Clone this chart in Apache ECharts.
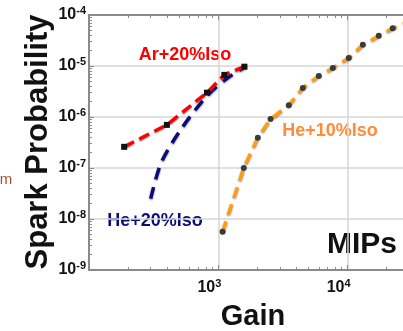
<!DOCTYPE html>
<html>
<head>
<meta charset="utf-8">
<style>
html, body { margin: 0; padding: 0; background: #fff; }
#main { width: 403px; height: 331px; }
</style>
<script src="https://cdn.jsdelivr.net/npm/echarts@6/dist/echarts.min.js"></script>
</head>
<body>
<div id="main"></div>
<script>
// values (gain, spark probability)
var arGain = [187, 400, 817, 1113, 1591];
var arProb = [2.6e-7, 7.0e-7, 3.0e-6, 6.7e-6, 9.7e-6];
var he20Gain = [300, 361, 516, 807, 1153, 1650];
var he20Prob = [2.5e-8, 1.25e-7, 5.8e-7, 2.5e-6, 5.6e-6, 1.0e-5];
var he10Gain = [1079, 1574, 2020, 2533, 3508, 4500, 5980, 7680, 10200, 13100, 17400, 22300, 28500];
var he10Prob = [5.6e-9, 1.0e-7, 3.9e-7, 9.1e-7, 1.7e-6, 3.7e-6, 6.4e-6, 9.1e-6, 1.44e-5, 2.6e-5, 3.9e-5, 5.5e-5, 7.2e-5];
var seriesNames = ['Ar+20%Iso', 'He+20%Iso', 'He+10%Iso'];

function pairs(xs, ys) {
	return xs.map(function (x, i) { return [x, ys[i]]; });
}
function powLabel(v) {
	var e = Math.round(Math.log10(v));
	return '{b|10}{s|' + e + '}';
}

var font = '"Liberation Sans", Arial, sans-serif';
var frame = '#8a8a8a';
var labelRich = {
	b: { fontSize: 16, fontWeight: 'bold', color: '#111', fontFamily: font },
	s: { fontSize: 11, fontWeight: 'bold', color: '#111', fontFamily: font, verticalAlign: 'top', padding: [0, 0, 8, 0] }
};
var shadow = { shadowColor: 'rgba(0,0,0,0.45)', shadowBlur: 2, shadowOffsetY: 1 };

var myChart = echarts.init(document.getElementById('main'));
var option = {
	animation: false,
	grid: { left: 89, top: 15, bottom: 61, right: -74, outerBoundsMode: 'none' },
	xAxis: [{
		type: 'log',
		min: 100,
		max: 100000,
		position: 'bottom',
		axisLine: { lineStyle: { color: frame, width: 2 } },
		axisTick: { inside: true, length: 5, lineStyle: { color: frame } },
		minorTick: { show: true, splitNumber: 9, length: 3, lineStyle: { color: frame } },
		axisLabel: { showMinLabel: false, margin: 8, padding: [0, 18, 0, 0], formatter: powLabel, rich: labelRich },
		splitLine: { show: true, lineStyle: { color: '#d6d6d6', width: 1.5 } }
	}, {
		type: 'log',
		min: 100,
		max: 100000,
		position: 'top',
		axisLine: { lineStyle: { color: frame, width: 2 } },
		axisTick: { inside: true, length: 5, lineStyle: { color: frame } },
		minorTick: { show: true, splitNumber: 9, length: 3, lineStyle: { color: frame } },
		axisLabel: { show: false },
		splitLine: { show: false }
	}],
	yAxis: {
		type: 'log',
		min: 1e-9,
		max: 1e-4,
		axisLine: { show: true, lineStyle: { color: frame, width: 2 } },
		axisTick: { show: true, inside: true, length: 5, lineStyle: { color: frame } },
		minorTick: { show: true, splitNumber: 9, length: 3, lineStyle: { color: frame } },
		axisLabel: { margin: 3, formatter: powLabel, rich: labelRich },
		splitLine: { show: true, lineStyle: { color: '#d6d6d6', width: 1.5 } }
	},
	series: [{
		name: seriesNames[1],
		type: 'line',
		data: pairs(he20Gain, he20Prob),
		smooth: 0.3,
		symbol: 'none',
		lineStyle: Object.assign({ color: '#0c0c78', width: 3.5, type: [12, 8], cap: 'butt' }, shadow)
	}, {
		name: seriesNames[0],
		type: 'line',
		data: pairs(arGain, arProb),
		symbol: 'rect',
		symbolSize: 6,
		itemStyle: { color: '#111' },
		lineStyle: Object.assign({ color: '#ff0000', width: 3.5, type: [11, 6], cap: 'butt' }, shadow)
	}, {
		name: seriesNames[2],
		type: 'line',
		data: pairs(he10Gain, he10Prob),
		symbol: 'circle',
		symbolSize: 6,
		itemStyle: { color: '#3a3a3a' },
		lineStyle: Object.assign({ color: '#ff9c10', width: 3.5, type: [11, 7], cap: 'butt' }, shadow)
	}],
	graphic: [
		{ type: 'text', x: 185, y: 55, style: { text: seriesNames[0], fill: '#ff0000', font: 'bold 18px ' + font, textAlign: 'center', textVerticalAlign: 'middle' } },
		{ type: 'text', x: 330, y: 131, style: { text: seriesNames[2], fill: '#ff8c3c', font: 'bold 18px ' + font, textAlign: 'center', textVerticalAlign: 'middle' } },
		{ type: 'text', x: 155, y: 221, style: { text: seriesNames[1], fill: '#0c0c78', font: 'bold 18px ' + font, textAlign: 'center', textVerticalAlign: 'middle' } },
		{ type: 'text', x: 362, y: 245, style: { text: 'MIPs', fill: '#111', font: 'bold 30px ' + font, textAlign: 'center', textVerticalAlign: 'middle' } },
		{ type: 'text', x: 253, y: 317, style: { text: 'Gain', fill: '#111', font: 'bold 29px ' + font, textAlign: 'center', textVerticalAlign: 'middle' } },
		{ type: 'text', x: 38, y: 142, rotation: Math.PI / 2, style: { text: 'Spark Probability', fill: '#111', font: 'bold 31px ' + font, textAlign: 'center', textVerticalAlign: 'middle' } },
		{ type: 'text', x: 6, y: 180, style: { text: 'm', fill: '#a0522d', font: '15px ' + font, textAlign: 'center', textVerticalAlign: 'middle' } }
	]
};
myChart.setOption(option);
</script>
</body>
</html>
